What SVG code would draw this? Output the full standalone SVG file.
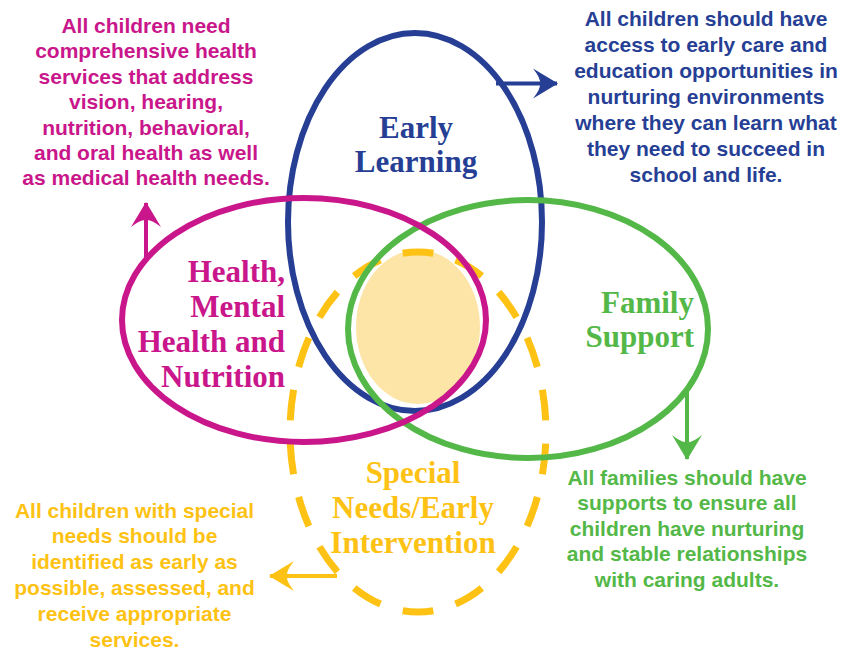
<svg xmlns="http://www.w3.org/2000/svg" width="843" height="650" viewBox="0 0 843 650">
<style>
.ring{fill:none;stroke-width:6}
.lbl{font-family:"Liberation Serif","Times New Roman",serif;font-weight:bold;font-size:31px}
.body{font-family:"Liberation Sans",Arial,sans-serif;font-weight:bold;font-size:21px;text-anchor:middle}
.arr{stroke-width:4;fill:none}
.blue{fill:#263f95}.mag{fill:#c9168b}.grn{fill:#54b848}.yel{fill:#fdc214}
</style>
<defs>
<marker id="ab" viewBox="-26 -17 28 34" refX="0" refY="0" markerWidth="28" markerHeight="34" markerUnits="userSpaceOnUse" orient="auto"><path d="M1,0 L-24,-15 Q-16,-5 -17,0 Q-16,5 -24,15 Z" fill="#263f95"/></marker>
<marker id="am" viewBox="-26 -17 28 34" refX="0" refY="0" markerWidth="28" markerHeight="34" markerUnits="userSpaceOnUse" orient="auto"><path d="M1,0 L-24,-15 Q-16,-5 -17,0 Q-16,5 -24,15 Z" fill="#c9168b"/></marker>
<marker id="ag" viewBox="-26 -17 28 34" refX="0" refY="0" markerWidth="28" markerHeight="34" markerUnits="userSpaceOnUse" orient="auto"><path d="M1,0 L-24,-15 Q-16,-5 -17,0 Q-16,5 -24,15 Z" fill="#54b848"/></marker>
<marker id="ay" viewBox="-26 -17 28 34" refX="0" refY="0" markerWidth="28" markerHeight="34" markerUnits="userSpaceOnUse" orient="auto"><path d="M1,0 L-24,-15 Q-16,-5 -17,0 Q-16,5 -24,15 Z" fill="#fdc214"/></marker>
</defs>

<ellipse id="center-fill" cx="418" cy="327" rx="62" ry="77" fill="#fde5a7"/>

<g id="special-needs">
<ellipse cx="418" cy="432" rx="128" ry="180" fill="none" stroke="#fdc214" stroke-width="7" pathLength="180" stroke-dasharray="5.7 4.3" stroke-dashoffset="7.85"/>
<text class="lbl yel" text-anchor="middle"><tspan x="413" y="483">Special</tspan><tspan x="413" y="518">Needs/Early</tspan><tspan x="413" y="553">Intervention</tspan></text>
</g>

<g id="early-learning">
<ellipse class="ring" cx="415" cy="222" rx="127" ry="189" stroke="#263f95"/>
<text class="lbl blue" text-anchor="middle"><tspan x="416" y="138">Early</tspan><tspan x="416" y="172">Learning</tspan></text>
</g>

<g id="family-support">
<ellipse class="ring" cx="528" cy="329" rx="180" ry="129" stroke="#54b848"/>
<text class="lbl grn" text-anchor="end"><tspan x="694" y="313">Family</tspan><tspan x="694" y="347">Support</tspan></text>
</g>

<g id="health">
<ellipse class="ring" cx="304" cy="320" rx="182" ry="122" stroke="#c9168b"/>
<text class="lbl mag" text-anchor="end"><tspan x="285" y="282">Health,</tspan><tspan x="285" y="317">Mental</tspan><tspan x="285" y="352">Health and</tspan><tspan x="285" y="387">Nutrition</tspan></text>
</g>

<g id="connectors">
<line class="arr" x1="496" y1="83.5" x2="557" y2="83.5" stroke="#263f95" marker-end="url(#ab)"/>
<line class="arr" x1="146" y1="262" x2="146" y2="203" stroke="#c9168b" marker-end="url(#am)"/>
<line class="arr" x1="687" y1="389" x2="687" y2="459" stroke="#54b848" marker-end="url(#ag)"/>
<line class="arr" x1="337" y1="576" x2="270" y2="576" stroke="#fdc214" marker-end="url(#ay)"/>
</g>

<g id="note-health">
<text class="body mag"><tspan x="146" y="33">All children need</tspan><tspan x="146" y="58.4">comprehensive health</tspan><tspan x="146" y="83.8">services that address</tspan><tspan x="146" y="109.2">vision, hearing,</tspan><tspan x="146" y="134.6">nutrition, behavioral,</tspan><tspan x="146" y="160">and oral health as well</tspan><tspan x="146" y="185.4">as medical health needs.</tspan></text>
</g>

<g id="note-learning">
<text class="body blue"><tspan x="706" y="26">All children should have</tspan><tspan x="706" y="52">access to early care and</tspan><tspan x="706" y="78">education opportunities in</tspan><tspan x="706" y="104">nurturing environments</tspan><tspan x="706" y="130">where they can learn what</tspan><tspan x="706" y="156">they need to succeed in</tspan><tspan x="706" y="182">school and life.</tspan></text>
</g>

<g id="note-family">
<text class="body grn"><tspan x="687" y="484.5">All families should have</tspan><tspan x="687" y="510.1">supports to ensure all</tspan><tspan x="687" y="535.7">children have nurturing</tspan><tspan x="687" y="561.3">and stable relationships</tspan><tspan x="687" y="586.9">with caring adults.</tspan></text>
</g>

<g id="note-special">
<text class="body yel"><tspan x="134.5" y="517.5">All children with special</tspan><tspan x="134.5" y="543.4">needs should be</tspan><tspan x="134.5" y="569.3">identified as early as</tspan><tspan x="134.5" y="595.2">possible, assessed, and</tspan><tspan x="134.5" y="621.1">receive appropriate</tspan><tspan x="134.5" y="647">services.</tspan></text>
</g>
</svg>
